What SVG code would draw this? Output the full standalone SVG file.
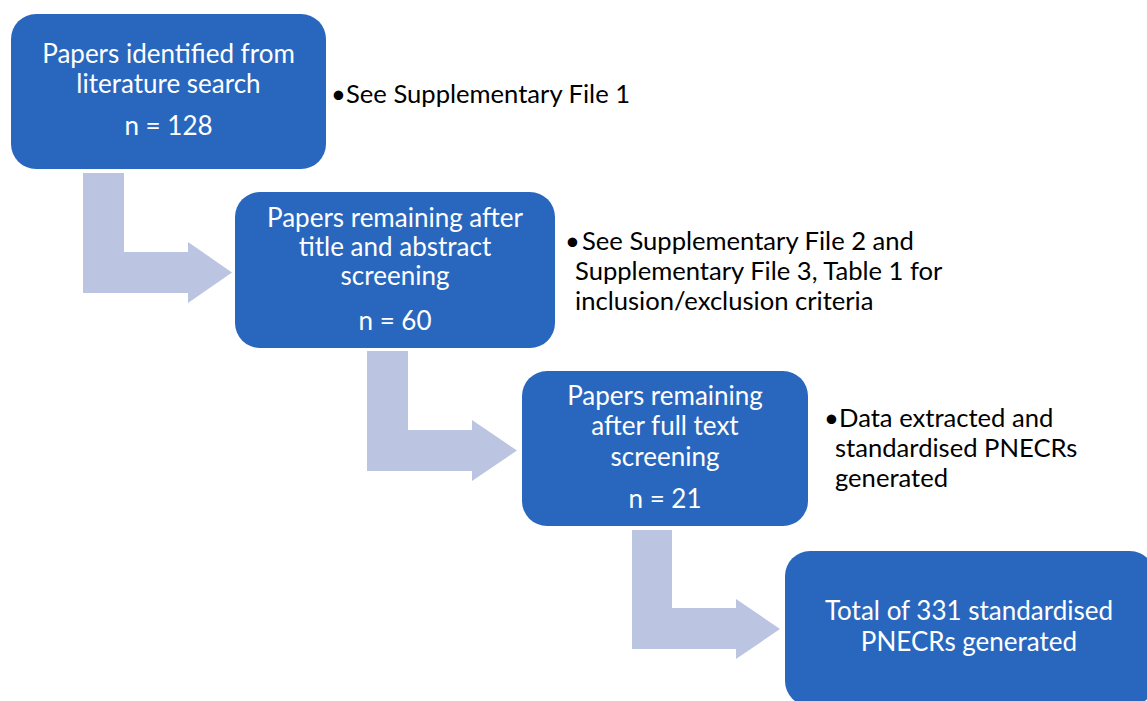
<svg xmlns="http://www.w3.org/2000/svg" width="1147" height="701" viewBox="0 0 1147 701">
<style>
.box{fill:#2967BE;}
.arr{fill:#BBC5E2;}
.bt{font-family:Lato,"Open Sans","Liberation Sans",sans-serif;font-size:26px;fill:#FFFFFF;text-anchor:middle;}
.st{font-family:Lato,"Open Sans","Liberation Sans",sans-serif;font-size:25.6px;fill:#000000;}
</style>
<rect width="1147" height="701" fill="#FFFFFF"/>
<g id="connectors">
<polygon class="arr" points="83,173 124,173 124,252 188,252 188,242 232,272.5 188,303 188,293 83,293"/>
<polygon class="arr" points="367,351 408,351 408,430 472,430 472,420 517,450.5 472,481 472,471 367,471"/>
<polygon class="arr" points="632,530 672,530 672,608 736,608 736,599 780,629 736,659 736,649 632,649"/>
</g>
<g id="node1">
<rect class="box" x="11" y="14" width="315" height="155" rx="25" ry="25"/>
<text class="bt" x="168.5" y="63">Papers identified from</text>
<text class="bt" x="168.5" y="93">literature search</text>
<text class="bt" x="168.5" y="135">n = 128</text>
</g>
<g id="node2">
<rect class="box" x="235" y="192" width="320" height="156" rx="25" ry="25"/>
<text class="bt" x="395" y="227">Papers remaining after</text>
<text class="bt" x="395" y="256">title and abstract</text>
<text class="bt" x="395" y="285">screening</text>
<text class="bt" x="395" y="330">n = 60</text>
</g>
<g id="node3">
<rect class="box" x="522" y="371" width="286" height="155" rx="25" ry="25"/>
<text class="bt" x="665" y="404.5">Papers remaining</text>
<text class="bt" x="665" y="435">after full text</text>
<text class="bt" x="665" y="465.5">screening</text>
<text class="bt" x="665" y="508">n = 21</text>
</g>
<g id="node4">
<rect class="box" x="785" y="551" width="370" height="155" rx="25" ry="25"/>
<text class="bt" x="969" y="620">Total of 331 standardised</text>
<text class="bt" x="969" y="651">PNECRs generated</text>
</g>
<g id="note1">
<text class="st" x="331" y="103">•</text>
<text class="st" x="346" y="103">See Supplementary File 1</text>
</g>
<g id="note2">
<text class="st" x="565" y="250">•</text>
<text class="st" x="582" y="250">See Supplementary File 2 and</text>
<text class="st" x="575" y="280">Supplementary File 3, Table 1 for</text>
<text class="st" x="575" y="310">inclusion/exclusion criteria</text>
</g>
<g id="note3">
<text class="st" x="824" y="427">•</text>
<text class="st" x="839" y="427">Data extracted and</text>
<text class="st" x="835" y="457">standardised PNECRs</text>
<text class="st" x="835" y="487">generated</text>
</g>
</svg>
